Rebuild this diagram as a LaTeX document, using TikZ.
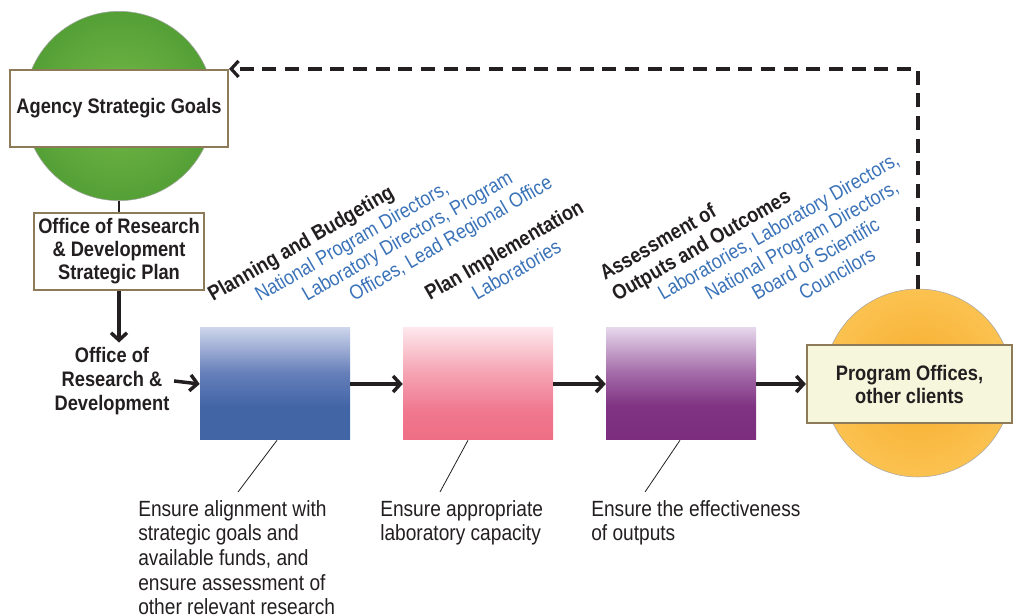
\documentclass[tikz,border=0pt]{standalone}
\usepackage{fontspec}
\setmainfont{Liberation Sans}[FakeStretch=0.87]
\usetikzlibrary{arrows.meta,calc}

\definecolor{ink}{RGB}{35,31,32}
\definecolor{boxedge}{RGB}{140,122,88}
\definecolor{roleblue}{RGB}{58,114,184}
\definecolor{ivory}{RGB}{246,246,220}
\definecolor{greenin}{RGB}{118,184,72}
\definecolor{greenout}{RGB}{84,160,54}
\definecolor{orangein}{RGB}{247,172,44}
\definecolor{orangeout}{RGB}{251,194,80}

% stage fills: pale at the top, full colour over the lower part
\pgfdeclareverticalshading{planfill}{100bp}{%
  rgb(0bp)=(0.259,0.396,0.651); rgb(25bp)=(0.259,0.396,0.651);
  rgb(40bp)=(0.259,0.396,0.651); rgb(55bp)=(0.40,0.50,0.73);
  rgb(75bp)=(0.80,0.83,0.92); rgb(100bp)=(0.80,0.83,0.92)}
\pgfdeclareverticalshading{implfill}{100bp}{%
  rgb(0bp)=(0.933,0.431,0.522); rgb(25bp)=(0.933,0.431,0.522);
  rgb(38bp)=(0.94,0.47,0.56); rgb(55bp)=(0.96,0.64,0.70);
  rgb(75bp)=(0.995,0.905,0.925); rgb(100bp)=(0.995,0.905,0.925)}
\pgfdeclareverticalshading{assessfill}{100bp}{%
  rgb(0bp)=(0.486,0.176,0.494); rgb(25bp)=(0.486,0.176,0.494);
  rgb(40bp)=(0.50,0.20,0.51); rgb(55bp)=(0.64,0.42,0.66);
  rgb(75bp)=(0.90,0.84,0.92); rgb(100bp)=(0.90,0.84,0.92)}

\begin{document}
\begin{tikzpicture}[x=0.75pt,y=-0.75pt,
  sphere/.style={circle, draw=black!35, line width=0.4pt, inner sep=0pt},
  labelbox/.style={draw=boxedge, line width=1.6pt, fill=white, align=center,
    font=\bfseries\fontsize{15.75}{17.25}\selectfont, text=ink},
  stagebox/.style={minimum width=112.5pt, minimum height=84pt, inner sep=0pt},
  flow/.style={draw=ink, line width=2.6pt, -{Straight Barb[length=5.5pt,width=12pt]}},
  stem/.style={draw=ink, line width=1.8pt},
  feedback/.style={draw=ink, line width=2.4pt, dash pattern=on 10.5pt off 6.5pt,
    -{Straight Barb[length=5.5pt,width=12pt]}},
  leader/.style={draw=ink, line width=0.6pt},
  caption/.style={anchor=north west, inner sep=0pt, align=left, text=ink,
    font=\fontsize{16.5}{18.5}\selectfont},
  tilt/.style={rotate=30, anchor=base west, inner sep=0pt},
  head/.style={tilt, text=ink, font=\bfseries\fontsize{15.75}{18}\selectfont},
  role/.style={tilt, text=roleblue, font=\fontsize{15.3}{18}\selectfont}
]
\useasboundingbox (0,0) rectangle (1014,616);

% agency goals
\node[sphere, minimum size=142pt, inner color=greenin, outer color=greenout] (goalsphere) at (119,106) {};
\node[labelbox, minimum width=163.5pt, minimum height=57.75pt] (agency) at (119,108.5) {Agency Strategic Goals};
\node[labelbox, minimum width=127.5pt, minimum height=57.75pt] (rdplan) at (119,251.5)
  {Office of Research\\ \& Development\\ Strategic Plan};
\node[align=center, text=ink, font=\bfseries\fontsize{15.75}{18}\selectfont] (rdoffice) at (112,381)
  {Office of\\ Research \&\\ Development};

% process stages
\node[stagebox, shading=planfill] (plan) at (275,384) {};
\node[stagebox, shading=implfill] (impl) at (478,384) {};
\node[stagebox, shading=assessfill] (assess) at (681,384) {};

% clients
\node[sphere, minimum size=141pt, inner color=orangein, outer color=orangeout] (clientsphere) at (918,383) {};
\node[labelbox, fill=ivory, minimum width=153.75pt, minimum height=58.5pt] (clients) at (909.5,384)
  {Program Offices,\\ other clients};

% connectors
\draw[stem] (goalsphere.south) -- (rdplan.north);
\draw[flow] (rdplan.south) -- (rdplan.south |- rdoffice.north);
\draw[flow] (rdoffice.east) -- (plan.west);
\draw[flow] (plan.east) -- (impl.west);
\draw[flow] (impl.east) -- (assess.west);
\draw[flow] (assess.east) -- (clients.west);
\draw[feedback] (clientsphere.north) |- (agency.north east);

% stage headings and responsible parties
\node[head] (planhead) at (213,302) {Planning and Budgeting};
\node[role] (planrole1) at (260,302) {National Program Directors,};
\node[role] (planrole2) at (307,302) {Laboratory Directors, Program};
\node[role] (planrole3) at (354,302) {Offices, Lead Regional Office};

\node[head] (implhead) at (430,301) {Plan Implementation};
\node[role] (implrole) at (477,301) {Laboratories};

\node[head] (assesshead1) at (605,281) {Assessment of};
\node[head] (assesshead2) at (617,302) {Outputs and Outcomes};
\node[role] (assessrole1) at (663,301) {Laboratories, Laboratory Directors,};
\node[role] (assessrole2) at (710,301) {National Program Directors,};
\node[role] (assessrole3) at (757,301) {Board of Scientific};
\node[role] (assessrole4) at (804,301) {Councilors};

% stage purposes
\node[caption] (capplan) at (138,500) {Ensure alignment with\\ strategic goals and\\ available funds, and\\ ensure assessment of\\ other relevant research};
\node[caption] (capimpl) at (380,500) {Ensure appropriate\\ laboratory capacity};
\node[caption] (capassess) at (591,500) {Ensure the effectiveness\\ of outputs};

\coordinate (planfoot) at (238,492);
\coordinate (implfoot) at (440,492);
\coordinate (assessfoot) at (645,492);
\draw[leader] ($(plan.south)+(2,0)$) -- (planfoot);
\draw[leader] ($(impl.south)+(-10,0)$) -- (implfoot);
\draw[leader] ($(assess.south)+(-1,0)$) -- (assessfoot);
\end{tikzpicture}
\end{document}
